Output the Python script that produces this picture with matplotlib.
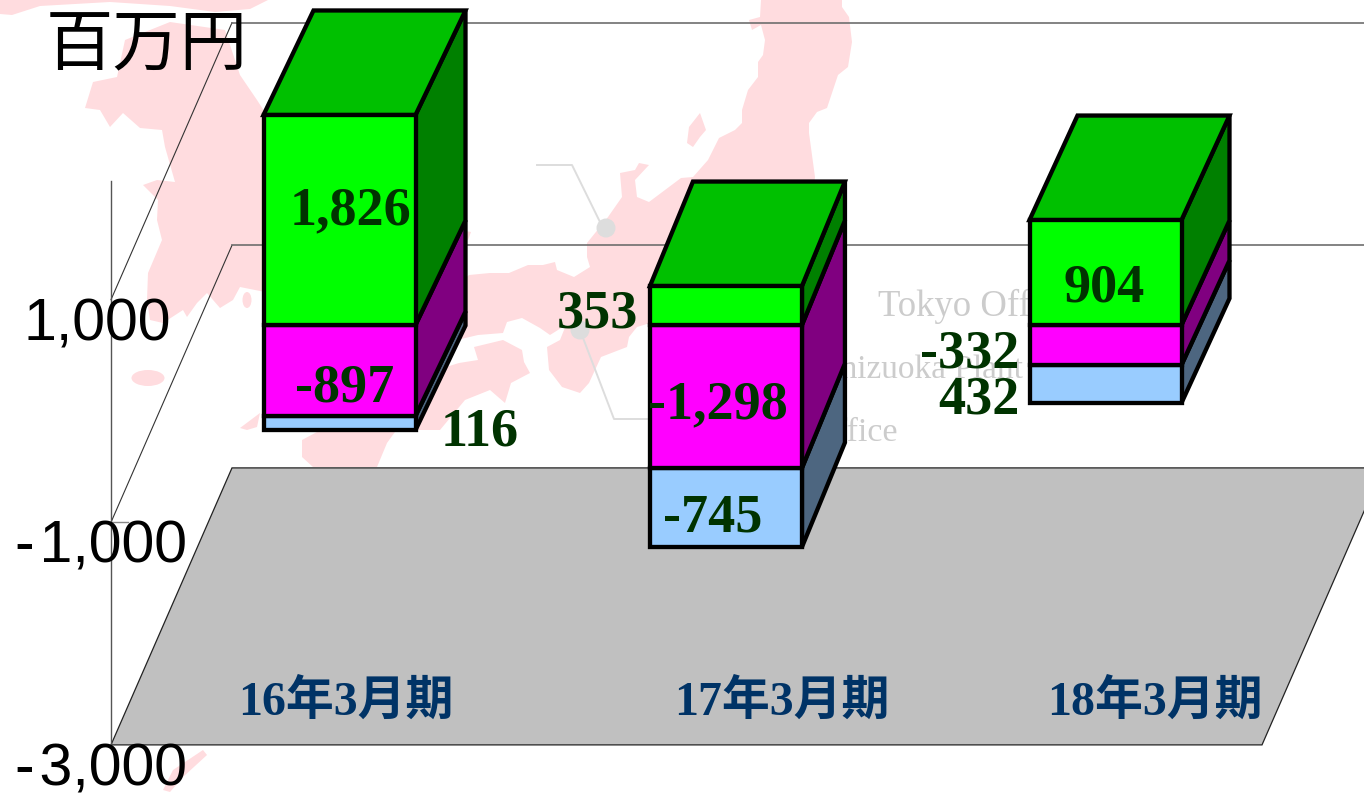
import matplotlib
matplotlib.use("Agg")
import matplotlib.pyplot as plt
from matplotlib.patches import Polygon, Circle, Ellipse

# ---- data ----
categories = ["16年3月期", "17年3月期", "18年3月期"]
green_values = [1887, 350, 943]
magenta_values = [-818, -1285, -359]
blue_values = [-126, -710, -341]
# printed data labels
green_labels = ["1,826", "353", "904"]
magenta_labels = ["-897", "-1,298", "-332"]
blue_labels = ["116", "-745", "432"]
tick_values = [-3000, -1000, 1000]
tick_labels = ["-\u200a3,000", "-\u200a1,000", "1,000"]
unit_label = "百万円"
callouts = ["Tokyo Office", "Shizuoka Plant", "Osaka Office"]

# ---- scale set-up ----
W, H = 1364, 795
fig = plt.figure(figsize=(W / 100, H / 100), dpi=100, facecolor="white")
PXY0, PXY = 411.0, 0.1113     # pixel row of value 0, pixels per unit
PX0, PXX = 339.5, 383.0       # pixel column of category 0, pixels per category

bg = fig.add_axes([0, 0, 1, 1], zorder=0)
bg.set_xlim(0, W); bg.set_ylim(H, 0); bg.axis("off")

ax = fig.add_axes([0, 0, 1, 1], zorder=1)
ax.set_xlim((0 - PX0) / PXX, (W - PX0) / PXX)
ax.set_ylim((PXY0 - H) / PXY, PXY0 / PXY)
ax.axis("off"); ax.patch.set_alpha(0)

top = fig.add_axes([0, 0, 1, 1], zorder=2)
top.set_xlim(0, W); top.set_ylim(H, 0); top.axis("off"); top.patch.set_alpha(0)

# ---- pale map backdrop ----
PINK = "#ffdcdf"
map_shapes = [
    # top band
    [(0, 0), (268, 0), (250, 9), (215, 12), (170, 6), (110, 2), (40, 6), (12, 15), (0, 14)],
    # Korea
    [(93, 82), (85, 108), (100, 110), (110, 127), (123, 113), (140, 128), (162, 130), (165, 147),
     (175, 182), (157, 180), (143, 185), (158, 200), (157, 220), (162, 240), (148, 273), (147, 300),
     (150, 320), (163, 323), (183, 310), (187, 317), (197, 303), (207, 293), (220, 308), (233, 300),
     (240, 287), (270, 293), (300, 180), (270, 120), (257, 100), (240, 75), (225, 30), (170, 22),
     (125, 40), (117, 77)],
    # Honshu
    [(761, 0), (760, 17), (749, 20), (752, 30), (761, 25), (765, 40), (763, 55), (758, 62), (758, 77),
     (748, 90), (742, 110), (742, 123), (735, 130), (719, 138), (708, 160), (693, 177), (681, 178),
     (649, 202), (637, 197), (635, 180), (649, 165), (639, 163), (635, 170), (620, 173), (622, 197),
     (608, 217), (587, 243), (587, 257), (590, 267), (574, 277), (557, 270), (555, 262), (543, 265),
     (528, 265), (509, 273), (490, 273), (469, 275), (440, 300), (440, 345), (457, 340), (478, 335),
     (503, 333), (507, 322), (522, 318), (540, 328), (550, 335), (566, 325), (560, 340), (547, 347),
     (549, 370), (562, 387), (580, 393), (589, 383), (601, 357), (627, 347), (629, 337), (637, 327),
     (660, 320), (800, 300), (815, 177), (809, 133), (809, 123), (817, 112), (827, 108), (832, 93),
     (838, 75), (848, 67), (852, 42), (849, 17), (842, 7), (842, 0)],
    # Shikoku
    [(420, 375), (459, 363), (478, 360), (474, 347), (503, 340), (522, 350), (524, 362), (530, 373),
     (511, 383), (505, 403), (490, 390), (465, 400), (440, 430), (415, 430)],
    # Kyushu
    [(330, 425), (400, 425), (387, 443), (377, 467), (313, 467), (302, 457), (302, 440)],
    # Sado
    [(700, 113), (706, 130), (700, 137), (693, 147), (687, 143), (689, 127)],
    # small islands
    [(240, 428), (260, 413), (257, 427), (247, 430)],
    # southern islands
    [(163, 790), (173, 770), (203, 750), (207, 755), (183, 777), (170, 792)],
    # tip beside bar 1
    [(460, 230), (471, 232), (468, 240), (460, 238)],
]
for shape in map_shapes:
    bg.add_patch(Polygon(shape, closed=True, fc=PINK, ec="none"))
bg.add_patch(Ellipse((148, 378), 33, 16, fc=PINK, ec="none"))
bg.add_patch(Ellipse((247, 300), 9, 16, fc=PINK, ec="none"))

CALL = "#dddddd"
bg.plot([537, 572, 600], [165, 165, 222], color=CALL, lw=1.4)
bg.plot([580, 614, 655], [330, 419, 419], color=CALL, lw=1.4)
bg.add_patch(Circle((606, 228), 9.5, fc=CALL, ec="none"))
bg.add_patch(Circle((580, 330), 9.5, fc=CALL, ec="none"))

SERIF = ["Liberation Serif", "Noto Sans CJK JP"]
bg.text(878, 306, callouts[0], family=SERIF, fontsize=26.5, color="#cccccc", ha="left", va="center")
bg.text(1023, 370, callouts[1], family=SERIF, fontsize=24, color="#cccccc", ha="right", va="center")
bg.text(898, 433, callouts[2], family=SERIF, fontsize=24.5, color="#cccccc", ha="right", va="center")

# ---- walls and floor ----
WALL_DX = 121 / PXX           # depth of the box, in category units
WALL_DY = 277 / PXY           # depth of the box, in value units
X_L = (111 - PX0) / PXX
X_R = (1262 - PX0) / PXX
FLOOR = tick_values[0]
ax.add_patch(Polygon([(X_L, FLOOR), (X_R, FLOOR), (X_R + WALL_DX, FLOOR + WALL_DY),
                      (X_L + WALL_DX, FLOOR + WALL_DY)],
                     closed=True, fc="#c0c0c0", ec="#222222", lw=0.9, zorder=1))
for t in tick_values[1:]:
    ax.plot([X_L, X_L + WALL_DX], [t, t + WALL_DY], color="#333333", lw=0.8, zorder=1)
    ax.plot([X_L + WALL_DX, (W + 5 - PX0) / PXX], [t + WALL_DY, t + WALL_DY],
            color="#6e6e6e", lw=1.2, zorder=1)
ax.plot([X_L, X_L], [FLOOR, 2070], color="#555555", lw=1.0, zorder=1)
ax.plot([X_L, X_L + 17 / PXX], [tick_values[1]] * 2, color="#888888", lw=1.0, zorder=1)

# ---- 3-D stacked bars ----
x_pos = [0, 1.009, 2]
BAR_W = 152 / PXX
depth_dx = [50 / PXX, 43 / PXX, 48 / PXX]
DEPTH_DY = 104.5 / PXY
BASE = 86 / PXY               # bars stand part-way into the box
LW = 3.1

def face(pts, color, z):
    ax.add_patch(Polygon(pts, closed=True, fc=color, ec="black", lw=LW,
                         joinstyle="miter", zorder=z))

for i, x in enumerate(x_pos):
    l, r = x - BAR_W / 2, x + BAR_W / 2
    dx = depth_dx[i]
    g = BASE + green_values[i]
    m = BASE + magenta_values[i]
    b = m + blue_values[i]
    # sides
    face([(r, m), (r + dx, m + DEPTH_DY), (r + dx, b + DEPTH_DY), (r, b)], "#4d6680", 3)
    face([(r, BASE), (r + dx, BASE + DEPTH_DY), (r + dx, m + DEPTH_DY), (r, m)], "#800080", 3)
    face([(r, g), (r + dx, g + DEPTH_DY), (r + dx, BASE + DEPTH_DY), (r, BASE)], "#008000", 3)
    # top
    face([(l, g), (l + dx, g + DEPTH_DY), (r + dx, g + DEPTH_DY), (r, g)], "#00c000", 3)
    # fronts
    face([(l, m), (r, m), (r, b), (l, b)], "#99ccff", 4)
    face([(l, BASE), (r, BASE), (r, m), (l, m)], "#ff00ff", 4)
    face([(l, g), (r, g), (r, BASE), (l, BASE)], "#00ff00", 4)

# ---- text ----
DG = "#003300"
lab_kw = dict(family=SERIF, fontsize=39, weight="bold", color=DG, va="center", ha="center")
green_xy = [(350, 211), (597, 315), (1104, 289)]
magenta_xy = [(345, 389), (718, 405), (970, 354)]
blue_xy = [(480, 433), (713, 518), (979, 400)]
for xy, s in zip(green_xy, green_labels):
    top.text(*xy, s, **lab_kw)
for xy, s in zip(magenta_xy, magenta_labels):
    top.text(*xy, s, **lab_kw)
for xy, s in zip(blue_xy, blue_labels):
    top.text(*xy, s, **lab_kw)

cat_xy = [(346, 702), (782, 702), (1155, 702)]
for xy, s in zip(cat_xy, categories):
    top.text(*xy, s, family=SERIF, fontsize=34.5, weight="bold", color="#003366",
             ha="center", va="center")

for t, s in zip(tick_values, tick_labels):
    top.text(187 if t < 0 else 171, PXY0 - PXY * t + 25, s,
             family=["Liberation Sans", "DejaVu Sans"],
             fontsize=42.5, color="black", ha="right", va="center")

top.text(147, 46, unit_label, family="Noto Sans CJK JP", fontsize=48.5, color="black",
         ha="center", va="center")

fig.savefig("out.png", dpi=100, facecolor="white")
